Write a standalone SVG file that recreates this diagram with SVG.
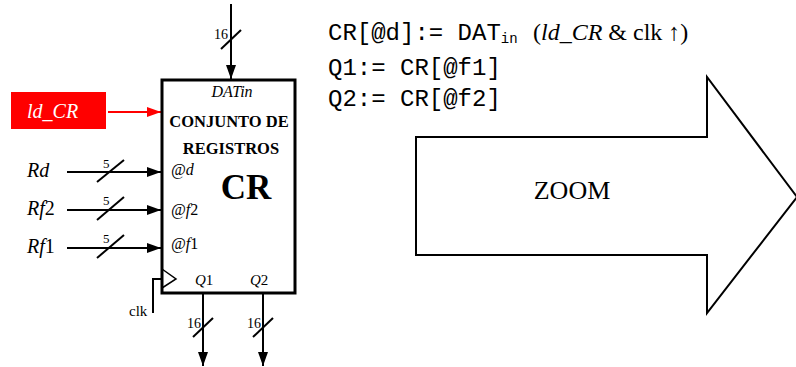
<svg xmlns="http://www.w3.org/2000/svg" width="796" height="367" viewBox="0 0 796 367">
<defs>
<marker id="ah" markerWidth="14" markerHeight="10" refX="14" refY="5" orient="auto" markerUnits="userSpaceOnUse">
<path d="M0,0 L14,5 L0,10 Z" fill="#000"/>
</marker>
<marker id="ahr" markerWidth="14" markerHeight="10" refX="14" refY="5" orient="auto" markerUnits="userSpaceOnUse">
<path d="M0,0 L14,5 L0,10 Z" fill="#f00"/>
</marker>
<style>
.w{stroke:#000;stroke-width:2;fill:none}
.s{stroke:#000;stroke-width:2;fill:none}
.t{font-family:"Liberation Serif","Times New Roman",serif;fill:#000}
.i{font-style:italic}
.b{font-weight:bold}
.m{font-family:"Liberation Mono","Courier New",monospace;fill:#000}
</style>
</defs>
<rect width="796" height="367" fill="#fff"/>

<g id="connectors">
<line class="w" x1="231" y1="4" x2="231" y2="79" marker-end="url(#ah)"/>
<line class="s" x1="221" y1="49" x2="241" y2="30"/>
<line x1="108" y1="112" x2="161" y2="112" stroke="#f00" stroke-width="2" marker-end="url(#ahr)"/>
<line class="w" x1="67" y1="172" x2="161" y2="172" marker-end="url(#ah)"/>
<line class="s" x1="97" y1="182" x2="124" y2="160"/>
<line class="w" x1="67" y1="210" x2="161" y2="210" marker-end="url(#ah)"/>
<line class="s" x1="97" y1="220" x2="124" y2="197"/>
<line class="w" x1="67" y1="248" x2="161" y2="248" marker-end="url(#ah)"/>
<line class="s" x1="97" y1="258" x2="124" y2="235"/>
<polyline class="w" points="153,313 153,279 162,279"/>
<line class="w" x1="203" y1="294" x2="203" y2="366" marker-end="url(#ah)"/>
<line class="s" x1="193" y1="337" x2="213" y2="318"/>
<line class="w" x1="263" y1="294" x2="263" y2="366" marker-end="url(#ah)"/>
<line class="s" x1="253" y1="337" x2="273" y2="318"/>
</g>

<g id="labels">
<text class="t" x="214" y="39" font-size="14">16</text>
<text class="t i" x="27" y="177" font-size="20">Rd</text>
<text class="t" x="27" y="215" font-size="20"><tspan class="i">Rf</tspan>2</text>
<text class="t" x="27" y="253" font-size="20"><tspan class="i">Rf</tspan>1</text>
<text class="t" x="103" y="168" font-size="13">5</text>
<text class="t" x="103" y="205" font-size="13">5</text>
<text class="t" x="103" y="243" font-size="13">5</text>
<text class="t" x="129" y="316" font-size="15">clk</text>
<text class="t" x="187" y="328" font-size="14">16</text>
<text class="t" x="247" y="328" font-size="14">16</text>
</g>

<g id="ld_CR">
<rect x="11" y="92" width="95" height="37" fill="#f00"/>
<text class="t i" x="27" y="118" font-size="20" style="fill:#fff">ld_CR</text>
</g>

<g id="CR">
<rect x="162" y="80" width="133" height="213" fill="#fff" stroke="#000" stroke-width="3"/>
<polyline points="162,269 176,279 162,288" fill="none" stroke="#000" stroke-width="1.5"/>
<text class="t i" x="232" y="97" font-size="16" text-anchor="middle">DATin</text>
<text class="t b" x="229" y="127" font-size="16.5" text-anchor="middle">CONJUNTO DE</text>
<text class="t b" x="231" y="154" font-size="16.5" text-anchor="middle">REGISTROS</text>
<text class="t b" x="246" y="199" font-size="35" text-anchor="middle">CR</text>
<text class="t i" x="171" y="175" font-size="16">@d</text>
<text class="t" x="171" y="215" font-size="16"><tspan class="i">@f</tspan>2</text>
<text class="t" x="171" y="249" font-size="16"><tspan class="i">@f</tspan>1</text>
<text class="t" x="195" y="285" font-size="15"><tspan class="i">Q</tspan>1</text>
<text class="t" x="250" y="285" font-size="15"><tspan class="i">Q</tspan>2</text>
</g>

<g id="formulas">
<text class="m" x="328" y="40" font-size="24">CR[@d]:= DAT<tspan font-size="14" dy="3">in</tspan></text>
<text class="t" x="533" y="40" font-size="24">(<tspan class="i">ld_CR</tspan> &amp; clk ↑)</text>
<text class="m" x="328" y="75" font-size="24">Q1:= CR[@f1]</text>
<text class="m" x="328" y="106" font-size="24">Q2:= CR[@f2]</text>
</g>

<g id="zoom">
<polygon points="416,137 707,137 707,77 797,197 707,313 707,255 416,255" fill="#fff" stroke="#000" stroke-width="2"/>
<text class="t" x="572" y="199" font-size="26" text-anchor="middle">ZOOM</text>
</g>
</svg>
